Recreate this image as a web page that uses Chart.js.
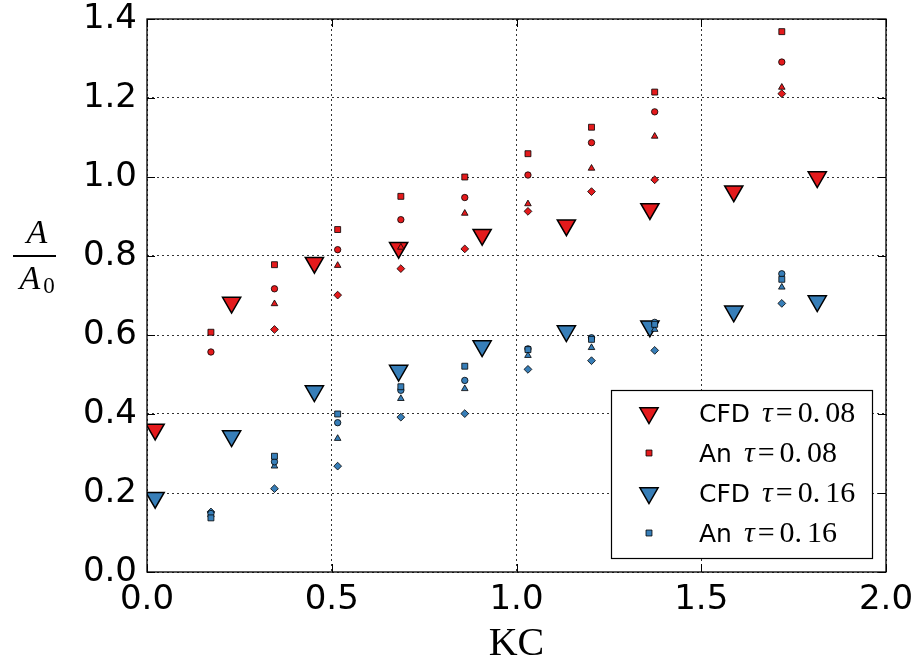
<!DOCTYPE html>
<html>
<head>
<meta charset="utf-8">
<script src="https://cdn.jsdelivr.net/npm/chart.js@4/dist/chart.umd.min.js"></script>
<style>
  html, body { margin: 0; padding: 0; background: #fff; }
  #wrap { width: 919px; height: 666px; }
</style>
</head>
<body>
<div id="wrap"><canvas id="chart-kc" width="919" height="666"></canvas></div>
<script>
// KC values for CFD runs and for the analytical curves
var kcCfd = [0.022, 0.229, 0.453, 0.681, 0.907, 1.135, 1.361, 1.588, 1.814];
var kcAn = [0.173, 0.345, 0.516, 0.687, 0.860, 1.031, 1.203, 1.374, 1.718];

// tau = 0.08
var cfd08 = [0.361, 0.682, 0.783, 0.821, 0.854, 0.878, 0.919, 0.964, 1.000];
var an08Square = [0.607, 0.778, 0.867, 0.951, 1.000, 1.059, 1.126, 1.215, 1.368];
var an08Circle = [0.557, 0.717, 0.816, 0.892, 0.948, 1.005, 1.087, 1.165, 1.291];
var an08Triangle = [null, 0.679, 0.776, 0.822, 0.908, 0.932, 1.022, 1.103, 1.227];
var an08Diamond = [null, 0.614, 0.701, 0.768, 0.818, 0.913, 0.963, 0.993, 1.211];

// tau = 0.16
var cfd16 = [0.188, 0.344, 0.458, 0.510, 0.572, 0.610, 0.622, 0.660, 0.686];
var an16Square = [0.137, 0.293, 0.400, 0.469, 0.521, 0.563, 0.589, 0.627, 0.741];
var an16Circle = [0.148, 0.279, 0.378, 0.460, 0.485, 0.565, 0.593, 0.632, 0.755];
var an16Triangle = [0.145, 0.268, 0.338, 0.439, 0.464, 0.548, 0.568, 0.614, 0.721];
var an16Diamond = [0.152, 0.211, 0.268, 0.392, 0.401, 0.513, 0.535, 0.561, 0.680];

var xTicks = [0, 0.5, 1.0, 1.5, 2.0];
var yTicks = [0, 0.2, 0.4, 0.6, 0.8, 1.0, 1.2, 1.4];

var RED = '#e41a1c', BLUE = '#377eb8';

function pts(xs, ys) {
    var out = [];
    for (var i = 0; i < xs.length; i++) {
        if (ys[i] !== null) out.push({x: xs[i], y: ys[i]});
    }
    return out;
}

function cfdSet(label, ys, color) {
    return {
        label: label, data: pts(kcCfd, ys), order: 1,
        pointStyle: 'triangle', rotation: 180, pointRadius: 10.5,
        backgroundColor: color, borderColor: '#000', borderWidth: 1.5,
        showInLegend: true
    };
}

function anSet(label, ys, color, style, radius, inLegend) {
    return {
        label: label, data: pts(kcAn, ys), order: 0,
        pointStyle: style, pointRadius: radius,
        backgroundColor: color, borderColor: '#000', borderWidth: 0.8,
        showInLegend: inLegend
    };
}

var datasets = [
    cfdSet('CFD', cfd08, RED),
    anSet('An', an08Square, RED, 'rect', 4.2, true),
    anSet('An circle', an08Circle, RED, 'circle', 3.2, false),
    anSet('An triangle', an08Triangle, RED, 'triangle', 3.8, false),
    anSet('An diamond', an08Diamond, RED, 'rectRot', 3.9, false),
    cfdSet('CFD', cfd16, BLUE),
    anSet('An', an16Square, BLUE, 'rect', 4.2, true),
    anSet('An circle', an16Circle, BLUE, 'circle', 3.2, false),
    anSet('An triangle', an16Triangle, BLUE, 'triangle', 3.8, false),
    anSet('An diamond', an16Diamond, BLUE, 'rectRot', 3.9, false)
];
var legendTau = ['0.08', '0.08', '0.16', '0.16'];

// frame, inward ticks, legend box and the A/A0 label
var decorations = {
    id: 'decorations',
    beforeDatasetsDraw: function(chart) {
        var ctx = chart.ctx, a = chart.chartArea;
        var xs = chart.scales.x, ys = chart.scales.y;
        ctx.save();
        ctx.strokeStyle = '#000';
        ctx.lineWidth = 1;
        xTicks.forEach(function(v) {
            var px = Math.round(xs.getPixelForValue(v)) + 0.5;
            ctx.beginPath();
            ctx.moveTo(px, a.bottom); ctx.lineTo(px, a.bottom - 8);
            ctx.moveTo(px, a.top); ctx.lineTo(px, a.top + 8);
            ctx.stroke();
        });
        yTicks.forEach(function(v) {
            var py = Math.round(ys.getPixelForValue(v)) + 0.5;
            ctx.beginPath();
            ctx.moveTo(a.left, py); ctx.lineTo(a.left + 8, py);
            ctx.moveTo(a.right, py); ctx.lineTo(a.right - 8, py);
            ctx.stroke();
        });
        ctx.restore();
    },
    afterDraw: function(chart) {
        var ctx = chart.ctx, a = chart.chartArea;
        ctx.save();
        ctx.strokeStyle = '#000';
        ctx.lineWidth = 1.3;
        ctx.strokeRect(a.left, a.top, a.right - a.left, a.bottom - a.top);

        // legend
        var bx = 611, by = 390, bw = 261, bh = 168;
        ctx.fillStyle = '#fff';
        ctx.fillRect(bx, by, bw, bh);
        ctx.lineWidth = 1.2;
        ctx.strokeRect(bx + 0.5, by + 0.5, bw, bh);
        var rows = chart.data.datasets.filter(function(d) { return d.showInLegend; });
        rows.forEach(function(d, i) {
            var cy = 413 + i * 40;
            ctx.fillStyle = d.backgroundColor;
            ctx.strokeStyle = d.borderColor;
            ctx.lineWidth = d.borderWidth;
            Chart.helpers.drawPoint(ctx, {
                pointStyle: d.pointStyle, radius: d.pointRadius,
                rotation: d.rotation || 0, borderWidth: d.borderWidth
            }, 649, cy);

            ctx.fillStyle = '#000';
            ctx.textBaseline = 'alphabetic';
            ctx.textAlign = 'left';
            var tx = 699, base = cy + 9;
            ctx.font = '25px "DejaVu Sans"';
            ctx.fillText(d.label, tx, base);
            tx += ctx.measureText(d.label).width + 12;
            ctx.font = 'italic 30px "Liberation Serif"';
            ctx.fillText('\u03c4', tx, base);
            tx += ctx.measureText('\u03c4').width + 3;
            ctx.font = '30px "Liberation Serif"';
            ctx.fillText('=', tx, base);
            tx += ctx.measureText('=').width + 5;
            var num = legendTau[i];
            ctx.fillText(num.slice(0, 2), tx, base);
            tx += ctx.measureText(num.slice(0, 2)).width + 5;
            ctx.fillText(num.slice(2), tx, base);
        });

        // y label as a fraction
        var fx = 34, fy = Math.round(chart.scales.y.getPixelForValue(0.8));
        ctx.fillStyle = '#000';
        ctx.textAlign = 'center';
        ctx.font = 'italic 34px "Liberation Serif"';
        ctx.fillText('A', fx + 3, fy - 13);
        ctx.fillRect(13, fy - 1, 43, 2);
        ctx.fillText('A', fx - 4, fy + 33);
        ctx.font = '23px "Liberation Serif"';
        ctx.fillText('0', fx + 15, fy + 37);
        ctx.restore();
    }
};

new Chart(document.getElementById('chart-kc'), {
    type: 'scatter',
    data: {datasets: datasets},
    options: {
        responsive: false,
        animation: false,
        layout: {padding: {top: 19, right: 33, left: 0, bottom: 0}},
        plugins: {legend: {display: false}, tooltip: {enabled: false}},
        scales: {
            x: {
                type: 'linear', min: 0, max: 2,
                afterFit: function(s) { s.height = 94; s.paddingLeft = 0; s.paddingRight = 0; },
                afterBuildTicks: function(s) { s.ticks = xTicks.map(function(v) { return {value: v}; }); },
                ticks: {
                    padding: 8, color: '#000',
                    font: {family: 'DejaVu Sans', size: 34},
                    callback: function(v) { return v.toFixed(1); }
                },
                grid: {color: '#000', lineWidth: 0.8, drawTicks: false, tickLength: 0},
                border: {display: false, dash: [2, 3]},
                title: {
                    display: true, text: 'KC', color: '#000',
                    font: {family: 'Liberation Serif', size: 40},
                    padding: {top: 0, bottom: -2}
                }
            },
            y: {
                type: 'linear', min: 0, max: 1.4,
                afterFit: function(s) { s.width = 147; s.paddingTop = 0; s.paddingBottom = 0; },
                afterBuildTicks: function(s) { s.ticks = yTicks.map(function(v) { return {value: v}; }); },
                ticks: {
                    padding: 10, color: '#000',
                    font: {family: 'DejaVu Sans', size: 34},
                    callback: function(v) { return v.toFixed(1); }
                },
                grid: {color: '#000', lineWidth: 0.8, drawTicks: false, tickLength: 0},
                border: {display: false, dash: [2, 3]}
            }
        }
    },
    plugins: [decorations]
});
</script>
</body>
</html>
